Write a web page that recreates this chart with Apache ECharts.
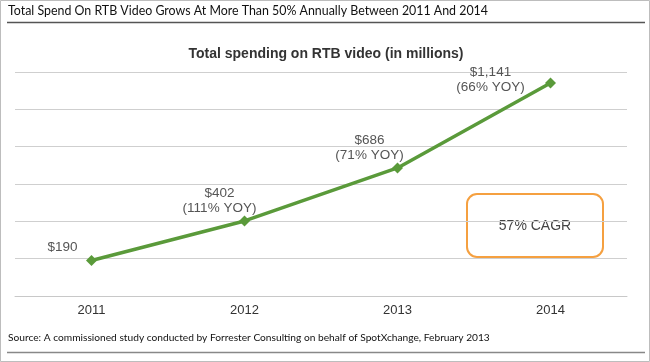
<!DOCTYPE html>
<html>
<head>
<meta charset="utf-8">
<script src="https://cdn.jsdelivr.net/npm/echarts@6/dist/echarts.min.js"></script>
<style>html,body{margin:0;padding:0;background:#fff}#c{width:650px;height:362px}</style>
</head>
<body>
<div id="c"></div>
<script>
const categories = ['2011', '2012', '2013', '2014'];
const spend = [190, 402, 686, 1141];
const yoy = [null, '111% YOY', '71% YOY', '66% YOY'];
const yTicks = [0, 200, 400, 600, 800, 1000, 1200];
const labelOffsets = [[-29, 0], [-25, 0], [-28, 0], [-60, 17]];

const chart = echarts.init(document.getElementById('c'));
const fmt = v => '$' + v.toLocaleString('en-US');
chart.setOption({
  animation: false,
  backgroundColor: '#fff',
  title: {
    text: 'Total spending on RTB video (in millions)',
    left: 321, top: 42, textAlign: 'center',
    textStyle: {fontFamily: 'Liberation Sans, Arial', fontSize: 14, fontWeight: 'bold', color: '#333'}
  },
  grid: {left: 15, right: 23, top: 72, bottom: 66},
  xAxis: {
    type: 'category', data: categories, boundaryGap: true,
    axisLine: {lineStyle: {color: '#c8c8c8'}},
    axisTick: {show: false},
    axisLabel: {color: '#333', fontSize: 13, fontFamily: 'Liberation Sans, Arial', margin: 8}
  },
  yAxis: {
    type: 'value', min: yTicks[0], max: yTicks[yTicks.length - 1], interval: 200,
    axisLabel: {show: false}, axisLine: {show: false}, axisTick: {show: false},
    splitLine: {lineStyle: {color: '#cfcfcf', width: 1}}
  },
  series: [{
    type: 'line',
    data: spend.map((v, i) => ({
      value: v,
      label: {
        show: true, position: 'top', distance: 0, offset: labelOffsets[i],
        formatter: yoy[i] ? fmt(v) + '\n(' + yoy[i] + ')' : fmt(v)
      }
    })),
    symbol: 'diamond', symbolSize: 11,
    lineStyle: {color: '#5a9a3a', width: 3.5},
    itemStyle: {color: '#5a9a3a'},
    label: {color: '#555', fontSize: 13.5, fontFamily: 'Liberation Sans, Arial', lineHeight: 15, align: 'center'}
  }],
  graphic: [
    {type: 'rect', shape: {x: 0.5, y: 0.5, width: 649, height: 361}, style: {fill: null, stroke: '#bdbdbd', lineWidth: 1}, silent: true},
    {type: 'text', left: 8, top: 5, style: {text: 'Total Spend On RTB Video Grows At More Than 50% Annually Between 2011 And 2014', fill: '#111', font: '12.4px Lato, "Open Sans", sans-serif'}},
    {type: 'line', shape: {x1: 7, y1: 22.5, x2: 645, y2: 22.5}, style: {stroke: '#555', lineWidth: 1.5}},
    {type: 'text', left: 8, top: 333, style: {text: 'Source: A commissioned study conducted by Forrester Consulting on behalf of SpotXchange, February 2013', fill: '#111', font: '10.2px Lato, "Open Sans", sans-serif'}},
    {type: 'line', shape: {x1: 7, y1: 352.5, x2: 645, y2: 352.5}, style: {stroke: '#888', lineWidth: 1.5}},
    {type: 'rect', shape: {x: 467, y: 194, width: 136, height: 63, r: 10}, style: {fill: '#fff', stroke: '#f5a040', lineWidth: 2}},
    {type: 'text', x: 535, y: 226, style: {text: '57% CAGR', fill: '#444', font: '14px "Liberation Sans", Arial', align: 'center', verticalAlign: 'middle'}}
  ]
});
</script>
</body>
</html>
